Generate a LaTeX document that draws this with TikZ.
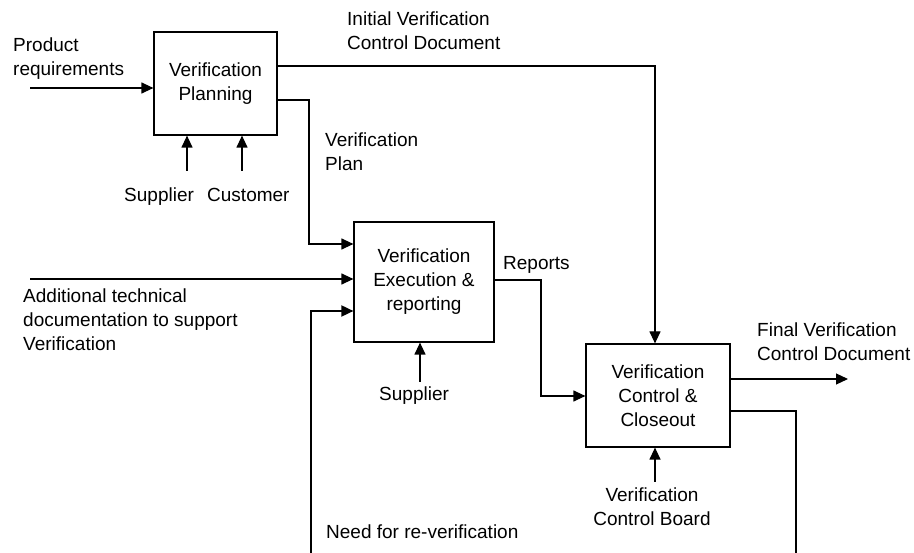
\documentclass[tikz,border=0pt]{standalone}
\usepackage{fontspec}
\setmainfont{Liberation Sans}
\usetikzlibrary{arrows.meta}
\begin{document}
\begin{tikzpicture}[x=1pt,y=-1pt,
  every node/.style={font=\fontsize{19}{24}\selectfont, inner sep=0pt},
  box/.style={draw, line width=1.2pt, align=center},
  lbl/.style={anchor=north west, align=left},
  link/.style={line width=1.2pt},
  thick link/.style={line width=1.8pt},
  arr/.style={link, -{Triangle[length=12pt,width=11pt]}}]
\useasboundingbox (0,0) rectangle (914,553);
% boxes
\node[box, minimum width=123pt, minimum height=103pt] (b1) at (215.5,83.5) {Verification\\Planning};
\node[box, minimum width=140pt, minimum height=120pt] (b2) at (424,282) {Verification\\Execution \&\\reporting};
\node[box, minimum width=144pt, minimum height=103pt] (b3) at (658,395.5) {Verification\\Control \&\\Closeout};
% free ends
\coordinate (pr) at (30,88);
\coordinate (at) at (30,279);
\coordinate (s1) at (187,171);
\coordinate (c1) at (242,171);
\coordinate (s2) at (420,382);
\coordinate (cb) at (655,482);
\coordinate (fo) at (848,379);
\coordinate (rvL) at (311,553);
\coordinate (rvR) at (796,553);
\coordinate (ivx) at (655,66);
\coordinate (vpx) at (309,100);
\coordinate (rpx) at (541,280);
% connectors
\draw[arr] (pr) -- (pr -| b1.west);
\draw[arr] (at) -- (at -| b2.west);
\draw[arr] (s1) -- (s1 |- b1.south);
\draw[arr] (c1) -- (c1 |- b1.south);
\draw[arr] (s2) -- (s2 |- b2.south);
\draw[arr] (cb) -- (cb |- b3.south);
\draw[arr] (ivx -| b1.east) -- (ivx) -- (ivx |- b3.north);
\draw[arr] (vpx -| b1.east) -- (vpx) -- (vpx |- 0,244) -- (b2.west |- 0,244);
\draw[arr] (rpx -| b2.east) -- (rpx) -- (rpx |- 0,396) -- (b3.west |- 0,396);
\draw[arr] (fo -| b3.east) -- (fo);
\draw[arr, thick link] (rvL) -- (rvL |- 0,311) -- (b2.west |- 0,311);
\draw[thick link] (b3.east |- 0,411) -- (rvR |- 0,411) -- (rvR);
% labels
\node[lbl] (lpr) at (13,38) {Product\\requirements};
\node[lbl] (liv) at (347,12) {Initial Verification\\Control Document};
\node[lbl] (lvp) at (325,133) {Verification\\Plan};
\node[lbl] (ls1) at (124,188) {Supplier};
\node[lbl] (lc1) at (207,188) {Customer};
\node[lbl] (lat) at (23,289) {Additional technical\\documentation to support\\Verification};
\node[lbl] (ls2) at (379,387) {Supplier};
\node[lbl] (lrp) at (503,256) {Reports};
\node[lbl] (lfo) at (757,323) {Final Verification\\Control Document};
\node[anchor=north, align=center] (lcb) at (652,488) {Verification\\Control Board};
\node[lbl] (lnr) at (326,525) {Need for re-verification};
\end{tikzpicture}
\end{document}
